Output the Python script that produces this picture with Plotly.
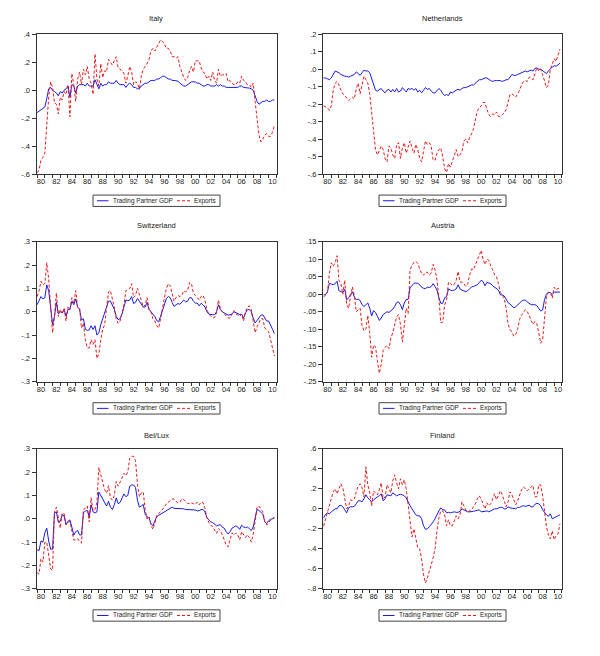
import plotly.graph_objects as go

# ---------------- data (quarterly, 1980Q1 - 2010Q4) ----------------
YEARS = list(range(1980, 2011))
PERIODS = [y + q / 4 for y in YEARS for q in range(4)]
X_LABEL_YEARS = list(range(1980, 2011, 2))
X_LABELS = ["%02d" % (y % 100) for y in X_LABEL_YEARS]
SERIES_NAMES = ["Trading Partner GDP", "Exports"]

italy_gdp = [
    -0.16, -0.15, -0.14, -0.13,  -0.12, -0.06, 0.01, 0.02,  0.00, -0.01, -0.02, -0.04,
    -0.01, -0.02, 0.00, 0.01,  0.03, -0.05, 0.04, 0.03,  -0.02, 0.03, 0.04, 0.04,
    0.04, 0.03, 0.05, 0.03,  0.03, 0.03, 0.075, 0.04,  0.01, 0.05, 0.03, 0.04,
    0.04, 0.06, 0.05, 0.05,  0.05, 0.07, 0.05, 0.04,  0.04, 0.04, 0.02, 0.04,
    0.05, 0.04, 0.02, 0.02,  0.01, 0.01, 0.03, 0.04,  0.05, 0.05, 0.06, 0.07,
    0.07, 0.07, 0.08, 0.08,  0.09, 0.10, 0.10, 0.09,  0.08, 0.08, 0.07, 0.07,
    0.07, 0.065, 0.05, 0.04,  0.03, 0.03, 0.04, 0.05,  0.06, 0.06, 0.06, 0.05,
    0.05, 0.04, 0.03, 0.03,  0.04, 0.04, 0.03, 0.03,  0.03, 0.04, 0.03, 0.04,
    0.03, 0.03, 0.02, 0.02,  0.02, 0.015, 0.015, 0.015,  0.02, 0.03, 0.03, 0.02,
    0.02, 0.02, 0.015, 0.01,  0.00, -0.04, -0.08, -0.10,  -0.09, -0.08, -0.08, -0.07,
    -0.08, -0.08, -0.07, -0.07,
]
italy_exp = [
    -0.59, -0.57, -0.50, -0.48,  -0.45, -0.25, -0.05, 0.06,  0.02, -0.09, -0.10, -0.17,
    -0.05, -0.07, -0.01, -0.03,  0.04, -0.19, 0.12, 0.04,  -0.08, 0.08, 0.13, 0.04,
    0.15, 0.11, 0.17, 0.08,  0.05, -0.03, 0.26, 0.08,  0.03, 0.19, 0.09, 0.14,
    0.13, 0.22, 0.20, 0.18,  0.21, 0.24, 0.16, 0.15,  0.14, 0.12, 0.05, 0.10,
    0.17, 0.13, 0.04, 0.06,  0.05, 0.01, 0.10, 0.15,  0.17, 0.19, 0.22, 0.28,
    0.30, 0.28, 0.31, 0.33,  0.36, 0.35, 0.33, 0.30,  0.30, 0.28, 0.24, 0.24,
    0.23, 0.24, 0.17, 0.12,  0.09, 0.07, 0.09, 0.14,  0.17, 0.13, 0.21, 0.21,
    0.21, 0.16, 0.13, 0.12,  0.08, 0.10, 0.07, 0.13,  0.07, 0.05, 0.15, 0.10,
    0.11, 0.11, 0.12, 0.06,  0.07, 0.05, 0.04, 0.04,  0.06, 0.05, 0.10, 0.07,
    0.06, 0.04, 0.04, 0.02,  0.05, -0.08, -0.21, -0.32,  -0.37, -0.35, -0.32, -0.31,
    -0.33, -0.33, -0.30, -0.25,
]
neth_gdp = [
    -0.05, -0.05, -0.055, -0.06,  -0.05, -0.03, -0.01, -0.015,  -0.02, -0.03, -0.035, -0.04,
    -0.04, -0.045, -0.04, -0.035,  -0.03, -0.015, -0.025, -0.035,  -0.02, -0.005, -0.01, -0.01,
    -0.02, -0.05, -0.09, -0.12,  -0.125, -0.115, -0.11, -0.125,  -0.135, -0.12, -0.115, -0.13,
    -0.115, -0.13, -0.11, -0.13,  -0.125, -0.105, -0.115, -0.13,  -0.11, -0.115, -0.11, -0.12,
    -0.11, -0.13, -0.12, -0.135,  -0.12, -0.105, -0.115, -0.11,  -0.125, -0.135, -0.135, -0.12,
    -0.11, -0.12, -0.14, -0.15,  -0.145, -0.15, -0.13, -0.135,  -0.125, -0.12, -0.115, -0.12,
    -0.11, -0.105, -0.105, -0.10,  -0.095, -0.09, -0.09, -0.08,  -0.065, -0.06, -0.06, -0.055,
    -0.05, -0.05, -0.06, -0.065,  -0.07, -0.065, -0.065, -0.065,  -0.065, -0.07, -0.065, -0.06,
    -0.06, -0.045, -0.03, -0.035,  -0.035, -0.03, -0.025, -0.02,  -0.015, -0.01, -0.015, -0.01,
    -0.005, -0.01, 0.005, 0.008,  0.00, 0.00, -0.01, -0.02,  -0.025, -0.01, 0.005, 0.013,
    0.02, 0.017, 0.025, 0.035,
]
neth_exp = [
    -0.21, -0.215, -0.22, -0.235,  -0.21, -0.12, -0.08, -0.07,  -0.09, -0.12, -0.14, -0.15,
    -0.165, -0.18, -0.17, -0.16,  -0.17, -0.11, -0.08, -0.14,  -0.09, -0.04, -0.06, -0.08,
    -0.14, -0.24, -0.34, -0.46,  -0.49, -0.46, -0.44, -0.46,  -0.51, -0.53, -0.44, -0.45,
    -0.49, -0.51, -0.43, -0.42,  -0.51, -0.45, -0.42, -0.48,  -0.45, -0.41, -0.45, -0.48,
    -0.43, -0.46, -0.51, -0.53,  -0.47, -0.41, -0.43, -0.42,  -0.44, -0.52, -0.52, -0.48,
    -0.46, -0.45, -0.50, -0.57,  -0.59, -0.54, -0.56, -0.53,  -0.50, -0.46, -0.50, -0.49,
    -0.47, -0.41, -0.40, -0.42,  -0.39, -0.37, -0.34, -0.28,  -0.24, -0.22, -0.21, -0.19,
    -0.19, -0.23, -0.26, -0.27,  -0.255, -0.26, -0.245, -0.27,  -0.27, -0.26, -0.25, -0.23,
    -0.18, -0.145, -0.14, -0.15,  -0.16, -0.14, -0.12, -0.09,  -0.07, -0.065, -0.07, -0.045,
    -0.05, -0.06, -0.02, 0.01,  -0.01, 0.00, -0.03, -0.07,  -0.105, -0.09, 0.00, 0.03,
    0.06, 0.045, 0.08, 0.115,
]
swiss_gdp = [
    0.03, 0.045, 0.065, 0.055,  0.06, 0.115, 0.09, 0.02,  -0.055, -0.02, 0.04, -0.01,
    0.00, -0.005, 0.01, -0.02,  0.01, 0.01, 0.045, 0.03,  0.055, 0.02, 0.01, -0.035,
    -0.03, -0.075, -0.08, -0.078,  -0.06, -0.076, -0.06, -0.10,  -0.09, -0.055, -0.03, -0.015,
    0.015, 0.045, 0.046, 0.03,  0.01, -0.02, -0.034, -0.03,  -0.01, 0.02, 0.05, 0.047,
    0.05, 0.065, 0.035, 0.04,  0.057, 0.045, 0.035, 0.02,  0.02, 0.04, 0.01, 0.00,
    -0.01, -0.02, -0.038, -0.043,  -0.02, 0.005, 0.036, 0.057,  0.065, 0.06, 0.04, 0.022,
    0.03, 0.035, 0.032, 0.04,  0.05, 0.042, 0.045, 0.06,  0.06, 0.045, 0.037, 0.037,
    0.025, 0.036, 0.03, 0.02,  0.00, -0.01, -0.013, -0.013,  -0.013, 0.00, 0.03, 0.008,
    0.00, -0.005, -0.013, -0.015,  -0.013, -0.01, 0.00, -0.005,  -0.008, -0.012, -0.01, -0.027,
    -0.005, 0.008, 0.01, 0.00,  -0.027, -0.048, -0.038, -0.027,  -0.015, -0.013, -0.03, -0.04,
    -0.04, -0.055, -0.075, -0.094,
]
swiss_exp = [
    0.065, 0.09, 0.13, 0.115,  0.12, 0.21, 0.14, 0.03,  -0.09, -0.02, 0.08, -0.02,
    0.01, -0.01, 0.015, -0.04,  0.02, 0.01, 0.06, 0.035,  0.09, 0.02, 0.015, -0.07,
    -0.05, -0.12, -0.155, -0.155,  -0.12, -0.14, -0.12, -0.20,  -0.18, -0.12, -0.075, -0.055,
    0.01, 0.085, 0.09, 0.055,  0.02, -0.03, -0.05, -0.04,  -0.01, 0.03, 0.09, 0.095,
    0.10, 0.12, 0.06, 0.07,  0.10, 0.075, 0.05, 0.02,  0.03, 0.06, 0.01, 0.00,
    -0.03, -0.04, -0.06, -0.07,  -0.03, 0.025, 0.06, 0.10,  0.12, 0.11, 0.07, 0.045,
    0.06, 0.07, 0.065, 0.07,  0.09, 0.085, 0.09, 0.125,  0.12, 0.08, 0.07, 0.06,
    0.05, 0.065, 0.07, 0.05,  0.01, -0.01, -0.02, -0.027,  -0.025, -0.005, 0.05, 0.012,
    0.00, -0.01, -0.02, -0.027,  -0.027, -0.01, 0.005, -0.01,  -0.013, -0.02, -0.01, -0.04,
    0.00, 0.02, 0.025, 0.01,  -0.04, -0.09, -0.065, -0.05,  -0.03, -0.03, -0.07, -0.077,
    -0.085, -0.12, -0.16, -0.19,
]
austria_gdp = [
    -0.002, -0.001, 0.007, 0.031,  0.029, 0.027, 0.03, 0.037,  0.01, 0.008, 0.005, 0.014,
    -0.016, -0.01, -0.002, 0.007,  -0.008, -0.016, -0.014, -0.018,  -0.03, -0.035, -0.03, -0.025,
    -0.04, -0.062, -0.047, -0.052,  -0.063, -0.075, -0.068, -0.058,  -0.054, -0.05, -0.052, -0.048,
    -0.043, -0.035, -0.024, -0.022,  -0.03, -0.044, -0.025, -0.015,  -0.015, 0.018, 0.026, 0.031,
    0.032, 0.031, 0.027, 0.02,  0.017, 0.016, 0.02, 0.019,  0.022, 0.03, 0.022, 0.012,
    -0.01, -0.026, -0.026, -0.01,  -0.007, 0.015, 0.012, 0.01,  0.012, 0.015, 0.027, 0.015,
    0.012, 0.01, 0.007, 0.01,  0.017, 0.021, 0.022, 0.025,  0.027, 0.033, 0.04, 0.036,
    0.024, 0.034, 0.033, 0.03,  0.024, 0.02, 0.018, 0.012,  -0.002, -0.002, -0.005, -0.015,
    -0.024, -0.028, -0.033, -0.039,  -0.036, -0.03, -0.024, -0.02,  -0.017, -0.017, -0.022, -0.027,
    -0.03, -0.03, -0.03, -0.033,  -0.04, -0.048, -0.045, -0.015,  0.00, 0.006, 0.004, -0.001,
    0.006, 0.006, 0.006, 0.006,
]
austria_exp = [
    -0.008, -0.003, 0.006, 0.06,  0.09, 0.08, 0.09, 0.11,  0.04, 0.03, 0.00, 0.04,
    -0.03, -0.04, -0.007, 0.021,  -0.005, -0.05, -0.045, -0.04,  -0.09, -0.104, -0.10, -0.06,
    -0.11, -0.18, -0.145, -0.15,  -0.19, -0.226, -0.20, -0.16,  -0.152, -0.146, -0.155, -0.125,
    -0.11, -0.09, -0.065, -0.058,  -0.086, -0.137, -0.08, -0.04,  -0.055, 0.07, 0.082, 0.091,
    0.094, 0.088, 0.072, 0.06,  0.054, 0.062, 0.063, 0.055,  0.06, 0.085, 0.07, 0.04,
    -0.01, -0.082, -0.08, -0.03,  -0.018, 0.035, 0.031, 0.025,  0.028, 0.04, 0.065, 0.035,
    0.035, 0.03, 0.022, 0.03,  0.055, 0.072, 0.07, 0.083,  0.095, 0.112, 0.125, 0.10,
    0.085, 0.10, 0.097, 0.08,  0.07, 0.055, 0.05, 0.03,  0.005, -0.003, -0.012, -0.04,
    -0.085, -0.10, -0.108, -0.12,  -0.115, -0.10, -0.072, -0.06,  -0.052, -0.044, -0.05, -0.06,
    -0.075, -0.086, -0.078, -0.085,  -0.11, -0.14, -0.13, -0.06,  -0.007, 0.005, 0.005, -0.011,
    0.02, 0.012, 0.017, 0.015,
]
bellux_gdp = [
    -0.132, -0.136, -0.095, -0.10,  -0.06, -0.04, -0.095, -0.13,  -0.13, 0.025, 0.03, -0.015,
    -0.01, 0.018, 0.012, -0.025,  -0.01, -0.005, -0.035, -0.07,  -0.055, -0.05, -0.069, -0.069,
    0.025, 0.034, 0.036, 0.01,  0.06, 0.03, 0.025, 0.03,  0.115, 0.10, 0.08, 0.065,
    0.055, 0.075, 0.05, 0.04,  0.06, 0.09, 0.065, 0.07,  0.093, 0.107, 0.095, 0.10,
    0.14, 0.145, 0.145, 0.135,  0.08, 0.05, 0.055, 0.062,  0.02, 0.008, 0.005, -0.02,
    -0.03, -0.01, 0.01, 0.015,  0.02, 0.025, 0.03, 0.036,  0.04, 0.045, 0.05, 0.045,
    0.045, 0.046, 0.046, 0.046,  0.043, 0.04, 0.04, 0.04,  0.04, 0.04, 0.038, 0.034,
    0.035, 0.04, 0.04, 0.03,  0.005, -0.005, -0.013, -0.016,  -0.022, -0.03, -0.027, -0.025,
    -0.036, -0.04, -0.055, -0.065,  -0.055, -0.04, -0.035, -0.03,  -0.035, -0.045, -0.027, -0.035,
    -0.038, -0.035, -0.042, -0.05,  -0.035, 0.00, 0.04, 0.036,  0.028, 0.02, -0.012, -0.02,
    -0.008, -0.002, 0.00, 0.004,
]
bellux_exp = [
    -0.23, -0.237, -0.17, -0.185,  -0.10, -0.10, -0.155, -0.215,  -0.22, 0.03, 0.05, -0.005,
    -0.04, 0.025, 0.022, -0.025,  -0.02, -0.01, -0.05, -0.09,  -0.09, -0.085, -0.097, -0.104,
    0.04, 0.045, 0.055, -0.013,  0.09, 0.035, 0.04, 0.07,  0.22, 0.185, 0.15, 0.125,
    0.11, 0.142, 0.09, 0.08,  0.10, 0.16, 0.14, 0.156,  0.175, 0.195, 0.185, 0.20,
    0.26, 0.268, 0.268, 0.25,  0.15, 0.095, 0.11, 0.116,  0.04, 0.00, 0.01, -0.025,
    -0.045, -0.02, 0.015, 0.022,  0.03, 0.04, 0.05, 0.065,  0.07, 0.078, 0.085, 0.085,
    0.075, 0.068, 0.072, 0.085,  0.083, 0.075, 0.066, 0.065,  0.068, 0.065, 0.062, 0.072,
    0.06, 0.072, 0.07, 0.045,  0.005, -0.015, -0.028, -0.033,  -0.045, -0.062, -0.042, -0.05,
    -0.068, -0.09, -0.112, -0.12,  -0.095, -0.06, -0.07, -0.06,  -0.07, -0.09, -0.055, -0.07,
    -0.08, -0.068, -0.08, -0.10,  -0.068, -0.01, 0.05, 0.055,  0.04, 0.03, -0.012, -0.027,
    -0.015, -0.005, 0.002, 0.007,
]
finland_gdp = [
    -0.09, -0.055, -0.04, -0.05,  -0.03, -0.01, 0.00, 0.00,  0.03, 0.035, 0.02, -0.01,
    -0.04, 0.01, 0.02, 0.02,  0.025, 0.05, 0.08, 0.08,  0.07, 0.10, 0.14, 0.11,
    0.09, 0.07, 0.09, 0.11,  0.12, 0.13, 0.15, 0.08,  0.10, 0.14, 0.135, 0.13,
    0.16, 0.14, 0.13, 0.14,  0.145, 0.14, 0.13, 0.11,  0.06, 0.03, 0.00, -0.03,
    -0.06, -0.07, -0.07, -0.10,  -0.17, -0.205, -0.20, -0.18,  -0.16, -0.13, -0.10, -0.05,
    -0.02, 0.01, -0.01, -0.01,  -0.04, -0.035, -0.04, -0.035,  -0.03, -0.035, -0.035, -0.025,
    0.00, -0.01, -0.02, -0.03,  -0.03, -0.03, -0.025, -0.02,  -0.015, -0.01, -0.03, -0.03,
    -0.025, -0.02, -0.03, -0.02,  -0.01, 0.00, 0.00, 0.01,  0.015, 0.015, 0.00, 0.00,
    0.02, 0.01, 0.005, 0.00,  0.00, 0.015, 0.015, 0.025,  0.03, 0.025, 0.03, 0.035,
    0.02, 0.02, 0.045, 0.055,  0.05, 0.03, -0.01, -0.04,  -0.06, -0.075, -0.05, -0.10,
    -0.09, -0.085, -0.075, -0.06,
]
finland_exp = [
    -0.17, -0.10, -0.03, 0.02,  0.10, 0.17, 0.20, 0.15,  0.20, 0.25, 0.21, 0.12,
    0.00, 0.03, 0.09, 0.08,  0.10, 0.17, 0.23, 0.25,  0.21, 0.12, 0.42, 0.24,
    0.16, 0.03, 0.18, 0.16,  0.14, 0.19, 0.26, 0.10,  0.12, 0.24, 0.19, 0.16,
    0.28, 0.34, 0.26, 0.20,  0.30, 0.24, 0.29, 0.20,  0.04, -0.10, -0.28, -0.20,
    -0.29, -0.39, -0.40, -0.50,  -0.66, -0.74, -0.69, -0.61,  -0.56, -0.49, -0.40, -0.22,
    -0.09, -0.02, -0.02, -0.06,  -0.17, -0.11, -0.17, -0.17,  -0.12, -0.07, -0.10, -0.06,
    0.07, 0.02, -0.01, -0.03,  -0.02, -0.01, 0.02, 0.05,  0.10, 0.13, 0.10, 0.05,
    0.00, 0.06, 0.03, 0.05,  0.11, 0.15, 0.09, 0.13,  0.18, 0.14, 0.08, 0.02,
    0.07, 0.17, 0.14, 0.08,  0.04, 0.08, 0.14, 0.19,  0.22, 0.20, 0.18, 0.20,
    0.22, 0.235, 0.12, 0.12,  0.24, 0.24, 0.13, -0.06,  -0.18, -0.26, -0.30, -0.22,
    -0.31, -0.27, -0.25, -0.15,
]

PANEL_TITLES = ["Italy", "Netherlands", "Switzerland", "Austria", "Bel/Lux", "Finland"]
PANEL_GDP = [italy_gdp, neth_gdp, swiss_gdp, austria_gdp, bellux_gdp, finland_gdp]
PANEL_EXP = [italy_exp, neth_exp, swiss_exp, austria_exp, bellux_exp, finland_exp]
PANEL_YTICKS = [
    ([0.4, 0.2, 0.0, -0.2, -0.4, -0.6], [".4", ".2", ".0", "-.2", "-.4", "-.6"]),
    ([0.2, 0.1, 0.0, -0.1, -0.2, -0.3, -0.4, -0.5, -0.6],
     [".2", ".1", ".0", "-.1", "-.2", "-.3", "-.4", "-.5", "-.6"]),
    ([0.3, 0.2, 0.1, 0.0, -0.1, -0.2, -0.3], [".3", ".2", ".1", ".0", "-.1", "-.2", "-.3"]),
    ([0.15, 0.10, 0.05, 0.0, -0.05, -0.10, -0.15, -0.20, -0.25],
     [".15", ".10", ".05", ".00", "-.05", "-.10", "-.15", "-.20", "-.25"]),
    ([0.3, 0.2, 0.1, 0.0, -0.1, -0.2, -0.3], [".3", ".2", ".1", ".0", "-.1", "-.2", "-.3"]),
    ([0.6, 0.4, 0.2, 0.0, -0.2, -0.4, -0.6, -0.8],
     [".6", ".4", ".2", ".0", "-.2", "-.4", "-.6", "-.8"]),
]

# ---------------- layout (pixels in a 600 x 656 page) ----------------
W, H = 600, 656
COLS_PX = [(36.5, 276.5), (323, 562)]
ROWS_PX = [(30.7, 172.5), (241, 383), (451, 593)]
TITLE_Y_PX = [15, 225, 437]
LEGEND_Y_PX = [199.5, 410, 620]
LEGEND_X_PX = [93, 379]          # left edge of each legend box
LEGEND_W, LEGEND_H = 127, 11.5
FONT = "Liberation Sans, Arial, sans-serif"
TXT = "#222222"
BLUE = "#1a1ae6"
RED = "#e61a1a"
DASH = "3px,2px"


def px(x):
    return x / W


def py(y):
    return 1 - y / H


fig = go.Figure()
layout = dict(
    width=W, height=H, margin=dict(l=0, r=0, t=0, b=0),
    paper_bgcolor="white", plot_bgcolor="white", showlegend=False,
    font=dict(family=FONT, size=8, color=TXT),
    annotations=[], shapes=[],
)

for k in range(6):
    r, c = divmod(k, 2)
    ax = "" if k == 0 else str(k + 1)
    x0, x1 = COLS_PX[c]
    yt, yb = ROWS_PX[r]
    fig.add_trace(go.Scatter(
        x=PERIODS, y=PANEL_GDP[k], mode="lines", name=SERIES_NAMES[0],
        line=dict(color=BLUE, width=1), xaxis="x" + ax, yaxis="y" + ax,
        hoverinfo="skip"))
    fig.add_trace(go.Scatter(
        x=PERIODS, y=PANEL_EXP[k], mode="lines", name=SERIES_NAMES[1],
        line=dict(color=RED, width=1, dash=DASH), xaxis="x" + ax, yaxis="y" + ax,
        hoverinfo="skip"))
    tv, tt = PANEL_YTICKS[k]
    layout["xaxis" + ax] = dict(
        domain=[px(x0), px(x1)], anchor="y" + ax, range=[1979.92, 2011.02],
        tickmode="array", tickvals=[y + 0.5 for y in X_LABEL_YEARS], ticktext=X_LABELS,
        ticks="outside", ticklen=0.01, tickcolor="rgba(0,0,0,0)",
        minor=dict(tickmode="array", tickvals=list(range(1980, 2012)), ticks="outside",
                   ticklen=3, tickcolor="#333", tickwidth=1, showgrid=False),
        showline=True, linecolor="#333", linewidth=1, mirror=True,
        showgrid=False, zeroline=False, tickfont=dict(size=7.5, color=TXT),
        fixedrange=True)
    layout["yaxis" + ax] = dict(
        domain=[py(yb), py(yt)], anchor="x" + ax, range=[min(tv), max(tv)],
        tickmode="array", tickvals=tv, ticktext=tt, ticks="outside", ticklen=4,
        tickcolor="#333", showline=True, linecolor="#333", linewidth=1, mirror=True,
        showgrid=False, zeroline=False, tickfont=dict(size=7.5, color=TXT),
        fixedrange=True)
    layout["annotations"].append(dict(
        text=PANEL_TITLES[k], x=px((x0 + x1) / 2), y=py(TITLE_Y_PX[r]),
        xref="paper", yref="paper", showarrow=False, xanchor="center", yanchor="middle",
        font=dict(size=7.5, color=TXT)))

    # legend box below each panel
    lx = LEGEND_X_PX[c]
    ly = LEGEND_Y_PX[r]
    layout["shapes"].append(dict(
        type="rect", xref="paper", yref="paper",
        x0=px(lx), x1=px(lx + LEGEND_W), y0=py(ly + LEGEND_H / 2), y1=py(ly - LEGEND_H / 2),
        line=dict(color="#444", width=1), fillcolor="white"))
    layout["shapes"].append(dict(
        type="line", xref="paper", yref="paper",
        x0=px(lx + 4), x1=px(lx + 15.5), y0=py(ly), y1=py(ly),
        line=dict(color=BLUE, width=1)))
    layout["shapes"].append(dict(
        type="line", xref="paper", yref="paper",
        x0=px(lx + 84), x1=px(lx + 98.5), y0=py(ly), y1=py(ly),
        line=dict(color=RED, width=1, dash=DASH)))
    layout["annotations"].append(dict(
        text=SERIES_NAMES[0], x=px(lx + 18.5), y=py(ly), xref="paper", yref="paper",
        showarrow=False, xanchor="left", yanchor="middle", xshift=-1,
        font=dict(size=6.4, color=TXT)))
    layout["annotations"].append(dict(
        text=SERIES_NAMES[1], x=px(lx + 100), y=py(ly), xref="paper", yref="paper",
        showarrow=False, xanchor="left", yanchor="middle", xshift=-1,
        font=dict(size=6.4, color=TXT)))

fig.update_layout(**layout)
fig.write_html("out.html", config={"displayModeBar": False},
               post_script="document.body.style.margin='0px';")
